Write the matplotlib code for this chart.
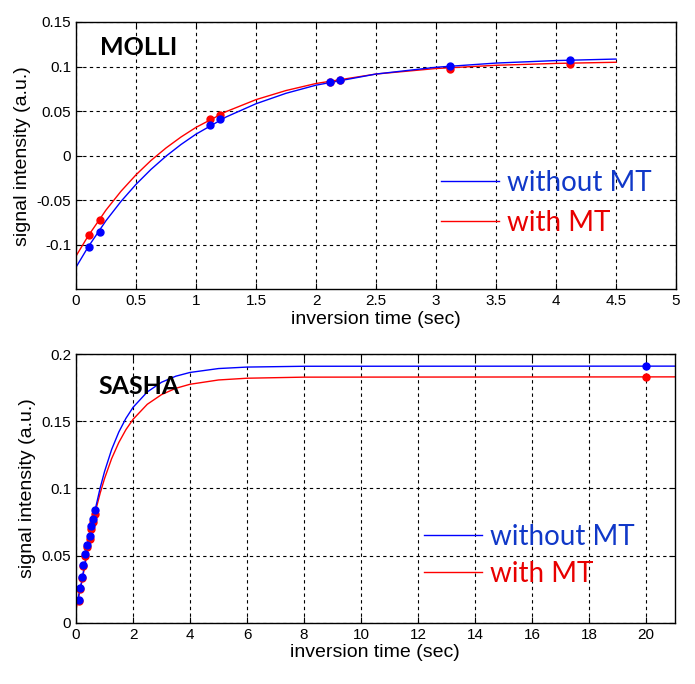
import matplotlib
matplotlib.use('Agg')
import matplotlib.pyplot as plt
import numpy as np

plt.rcParams['font.family'] = ['Liberation Sans', 'DejaVu Sans']

# MOLLI data points
t_molli = [0.11, 0.2, 1.12, 1.2, 2.12, 2.2, 3.12, 4.12]
molli_without = [-0.1025, -0.0855, 0.035, 0.041, 0.083, 0.085, 0.1007, 0.1078]
molli_with = [-0.0886, -0.0725, 0.041, 0.046, 0.0825, 0.0845, 0.097, 0.103]

# MOLLI fitted curves
t_molli_fit = [0, 0.1, 0.25, 0.375, 0.5, 0.625, 0.75, 0.875, 1.0, 1.25, 1.5, 1.75,
               2.0, 2.5, 3.0, 3.5, 4.0, 4.5]
molli_fit_without = [-0.125, -0.1025, -0.0728, -0.0512, -0.0321, -0.0153, -0.0005, 0.0126,
                     0.0242, 0.0434, 0.0583, 0.0700, 0.0791, 0.0916, 0.0992, 0.1039,
                     0.1067, 0.1084]
molli_fit_with = [-0.1125, -0.0902, -0.0609, -0.0398, -0.0214, -0.0053, 0.0087, 0.0210,
                  0.0318, 0.0494, 0.0629, 0.0731, 0.0810, 0.0916, 0.0978, 0.1014,
                  0.1035, 0.1048]

# SASHA data points
t_sasha = [0.09, 0.15, 0.22, 0.26, 0.33, 0.38, 0.48, 0.53, 0.61, 0.67, 20]
sasha_without = [0.0169, 0.0256, 0.0343, 0.0430, 0.0509, 0.0579, 0.0646, 0.0720, 0.0774, 0.0839, 0.191]
sasha_with = [0.0165, 0.025, 0.0335, 0.042, 0.0495, 0.056, 0.0625, 0.070, 0.075, 0.081, 0.1827]

# SASHA fitted curves
t_sasha_fit = [0, 0.1, 0.2, 0.4, 0.67, 0.85, 1.0, 1.25, 1.5, 1.75, 2.0, 2.5, 3.0, 3.5,
               4.0, 5.0, 6.0, 8.0, 21.0]
sasha_fit_without = [0.012, 0.021, 0.031, 0.055, 0.084, 0.1006, 0.1125, 0.129, 0.1419,
                     0.1521, 0.1603, 0.1718, 0.179, 0.1835, 0.1863, 0.1892, 0.1903,
                     0.1909, 0.191]
sasha_fit_with = [0.010, 0.020, 0.030, 0.053, 0.082, 0.0967, 0.1073, 0.1222, 0.1341,
                  0.1437, 0.1514, 0.1626, 0.1698, 0.1745, 0.1775, 0.1807, 0.182,
                  0.1828, 0.183]

fig = plt.figure(figsize=(6.95, 6.84), dpi=100)
ax1 = fig.add_axes([0.1094, 0.5768, 0.8633, 0.3911])
ax2 = fig.add_axes([0.1094, 0.0896, 0.8612, 0.3928])

tick_fs = 11
label_fs = 14
leg_fs = 20


def style(ax):
    ax.grid(True, color='black', linestyle=(0, (3, 3)), linewidth=0.8)
    ax.tick_params(direction='in', top=True, right=True, labelsize=tick_fs, length=4)
    for s in ax.spines.values():
        s.set_linewidth(1.0)


# top panel
lr1, = ax1.plot(t_molli_fit, molli_fit_with, color='red', lw=1)
lb1, = ax1.plot(t_molli_fit, molli_fit_without, color='blue', lw=1)
ax1.plot(t_molli, molli_with, 'o', color='red', ms=5, mec='red')
ax1.plot(t_molli, molli_without, 'o', color='blue', ms=5, mec='blue')
ax1.set_xlim(0, 5)
ax1.set_ylim(-0.15, 0.15)
ax1.set_xticks(np.arange(0, 5.01, 0.5))
ax1.set_xticklabels(['0', '0.5', '1', '1.5', '2', '2.5', '3', '3.5', '4', '4.5', '5'])
ax1.set_yticks([-0.1, -0.05, 0, 0.05, 0.1, 0.15])
ax1.set_yticklabels(['-0.1', '-0.05', '0', '0.05', '0.1', '0.15'])
style(ax1)
ax1.set_xlabel('inversion time (sec)', fontsize=label_fs, labelpad=2)
ax1.set_ylabel('signal intensity (a.u.)', fontsize=label_fs, labelpad=4)
ax1.text(0.04, 0.906, 'MOLLI', transform=ax1.transAxes, fontsize=18, fontweight='bold',
         family='Lato', va='center', ha='left')
ax1.legend([lb1, lr1], ['without MT', 'with MT'], loc='center left',
           bbox_to_anchor=(0.608, 0.323), frameon=False,
           handlelength=2.1, handletextpad=0.3, labelspacing=0.5, borderpad=0,
           borderaxespad=0, labelcolor=['#1038c8', '#e80000'],
           prop={'family': 'Lato', 'size': leg_fs})

# bottom panel
lr2, = ax2.plot(t_sasha_fit, sasha_fit_with, color='red', lw=1)
lb2, = ax2.plot(t_sasha_fit, sasha_fit_without, color='blue', lw=1)
ax2.plot(t_sasha, sasha_with, 'o', color='red', ms=5, mec='red')
ax2.plot(t_sasha, sasha_without, 'o', color='blue', ms=5, mec='blue')
ax2.set_xlim(0, 21)
ax2.set_ylim(0, 0.2)
ax2.set_xticks(np.arange(0, 21, 2))
ax2.set_yticks([0, 0.05, 0.1, 0.15, 0.2])
ax2.set_yticklabels(['0', '0.05', '0.1', '0.15', '0.2'])
style(ax2)
ax2.set_xlabel('inversion time (sec)', fontsize=label_fs, labelpad=2)
ax2.set_ylabel('signal intensity (a.u.)', fontsize=label_fs, labelpad=4)
ax2.text(0.037, 0.881, 'SASHA', transform=ax2.transAxes, fontsize=18, fontweight='bold',
         family='Lato', va='center', ha='left')
ax2.legend([lb2, lr2], ['without MT', 'with MT'], loc='center left',
           bbox_to_anchor=(0.581, 0.25), frameon=False,
           handlelength=2.1, handletextpad=0.3, labelspacing=0.4, borderpad=0,
           borderaxespad=0, labelcolor=['#1038c8', '#e80000'],
           prop={'family': 'Lato', 'size': leg_fs})

fig.savefig('out.png', dpi=100)
